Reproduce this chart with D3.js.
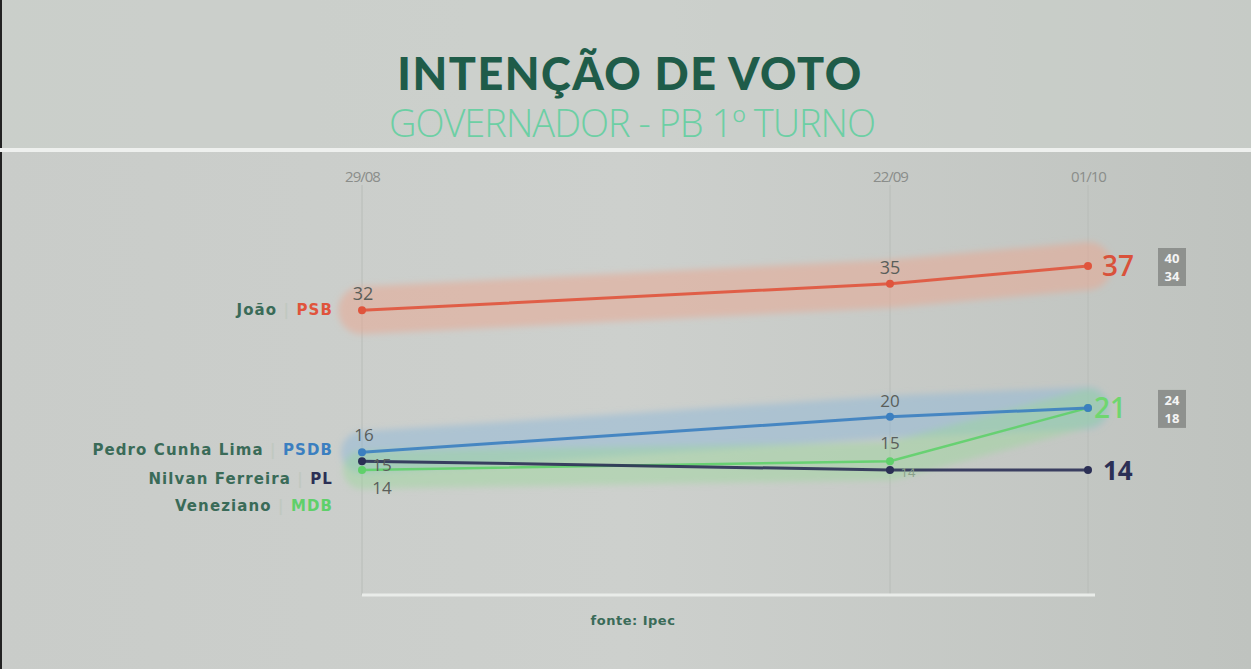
<!DOCTYPE html>
<html><head><meta charset="utf-8">
<script src="https://cdn.jsdelivr.net/npm/d3@7"></script>
<style>html,body{margin:0;padding:0;background:#c8cbc8;overflow:hidden}</style>
</head><body>
<svg id="c" width="1251" height="669"></svg>
<script>
const dates = ["2022-08-29","2022-09-22","2022-10-01"];
const tickLabels = ["29/08","22/09","01/10"];
const joao = [32,35,37];
const pedro = [16,20,21];
const nilvan = [15,14,14];
const veneziano = [14,15,21];
const candidates = ["João","Pedro Cunha Lima","Nilvan Ferreira","Veneziano"];
const parties = ["PSB","PSDB","PL","MDB"];
const colors = ["#e0543c","#3b7fc0","#2b2f55","#5fd06a"];
const rangeJoao = [40,34];
const rangeGreen = [24,18];

const svg = d3.select("#c");
const W=1251,H=669;
const defs = svg.append("defs");
const bg = defs.append("linearGradient").attr("id","bg").attr("x1",0).attr("x2",1).attr("y1",0).attr("y2",0);
bg.append("stop").attr("offset","0%").attr("stop-color","#c9ccc9");
bg.append("stop").attr("offset","50%").attr("stop-color","#cdd0cd");
bg.append("stop").attr("offset","100%").attr("stop-color","#bfc3bf");
svg.append("rect").attr("width",W).attr("height",H).attr("fill","url(#bg)");
svg.append("rect").attr("width",W).attr("height",150).attr("fill","#ccd1cc").attr("opacity",0.6);
svg.append("rect").attr("x",0).attr("y",0).attr("width",2).attr("height",H).attr("fill","#222");
svg.append("rect").attr("x",0).attr("y",148).attr("width",W).attr("height",4).attr("fill","#eef0ee");
const blur = defs.append("filter").attr("id","blur").attr("x","-20%").attr("y","-50%").attr("width","140%").attr("height","200%");
blur.append("feGaussianBlur").attr("stdDeviation",3);

// title
svg.append("text").attr("x",630).attr("y",90).attr("text-anchor","middle")
  .attr("font-family","Lato, 'Open Sans', sans-serif").attr("font-weight",900).attr("font-size",45)
  .attr("fill","#1f5c49").attr("letter-spacing",1.5).text("INTENÇÃO DE VOTO");
svg.append("text").attr("x",632).attr("y",137).attr("text-anchor","middle")
  .attr("font-family","'Open Sans', Lato, sans-serif").attr("font-weight",300).attr("font-size",38)
  .attr("fill","#6ccfa4").attr("letter-spacing",-1).text("GOVERNADOR - PB 1º TURNO");

const parse = d3.timeParse("%Y-%m-%d");
const xd = dates.map(parse);
const x = d3.scaleTime().domain([xd[0],xd[2]]).range([362,1088]);
const y = d3.scaleLinear().domain([14,37]).range([470,266]);

// grid
svg.append("g").selectAll("line").data(xd).join("line")
  .attr("x1",d=>x(d)).attr("x2",d=>x(d)).attr("y1",185).attr("y2",595)
  .attr("stroke","#b8bcb8").attr("stroke-width",1);
svg.append("line").attr("x1",362).attr("x2",1095).attr("y1",595).attr("y2",595)
  .attr("stroke","#e9ece9").attr("stroke-width",3);

// x axis ticks
const ax = d3.axisTop(x).tickValues(xd).tickFormat((d,i)=>tickLabels[i]).tickSize(0);
const axg = svg.append("g").attr("transform","translate(0,168)").call(ax);
axg.select(".domain").remove();
axg.selectAll("text").attr("font-family","'Open Sans', sans-serif").attr("font-size",15)
  .attr("fill","#8a8d8a").attr("letter-spacing",-1).attr("dy","1.1em");

const series = [joao,pedro,nilvan,veneziano];
const line = d3.line().x((d,i)=>x(xd[i])).y(d=>y(d));

// glow bands
const bands = svg.append("g").attr("filter","url(#blur)");
bands.append("path").datum(joao).attr("d",line).attr("fill","none")
  .attr("stroke","#e8a894").attr("stroke-width",48).attr("stroke-linecap","round").attr("opacity",0.55);
bands.append("path").datum(pedro).attr("d",line).attr("fill","none")
  .attr("stroke","#8fb8d8").attr("stroke-width",42).attr("stroke-linecap","round").attr("opacity",0.5);
bands.append("path").datum(veneziano).attr("d",line).attr("fill","none")
  .attr("stroke","#9ad89a").attr("stroke-width",38).attr("stroke-linecap","round").attr("opacity",0.45);

// lines
const order = [0,3,1,2];
order.forEach(k=>{
  svg.append("path").datum(series[k]).attr("d",line).attr("fill","none")
    .attr("stroke",colors[k]).attr("stroke-width",k===3?2.5:3).attr("opacity",0.9);
  svg.append("g").selectAll("circle").data(series[k]).join("circle")
    .attr("cx",(d,i)=>x(xd[i])).attr("cy",d=>y(d)).attr("r",4).attr("fill",colors[k]);
});

// legend labels
const legY = [310,450,479,506];
candidates.forEach((c,i)=>{
  const t = svg.append("text").attr("x",333).attr("y",legY[i]+5).attr("text-anchor","end")
    .attr("font-family","'DejaVu Sans', sans-serif").attr("font-weight",700).attr("font-size",15)
    .attr("letter-spacing",1.1);
  t.append("tspan").attr("fill","#3a6b58").text(c+" ");
  t.append("tspan").attr("fill","#c0c8c0").text("| ");
  t.append("tspan").attr("fill",colors[i]).text(parties[i]);
});

// value labels
const vf = "'Open Sans', sans-serif";
function lab(xv,yv,txt,size,col,w,anchor){
  svg.append("text").attr("x",xv).attr("y",yv).attr("text-anchor",anchor||"middle")
   .attr("font-family",vf).attr("font-size",size).attr("font-weight",w||400).attr("fill",col).text(txt);
}
const g="#5a5e5a";
lab(x(xd[0])+1,y(joao[0])-10,joao[0],18,g);
lab(x(xd[1]),y(joao[1])-10,joao[1],18,g);
lab(x(xd[2])+14,y(joao[2])+10,joao[2],28,"#d9523b",600,"start");
lab(x(xd[0])+2,y(pedro[0])-11,pedro[0],17,g);
lab(x(xd[0])+20,y(nilvan[0])+10,nilvan[0],17,g);
lab(x(xd[0])+20,y(veneziano[0])+24,veneziano[0],17,g);
lab(x(xd[1]),y(pedro[1])-10,pedro[1],17,g);
lab(x(xd[1]),y(veneziano[1])-12,veneziano[1],17,g);
lab(x(xd[1])+18,y(nilvan[1])+7,nilvan[1],13,"#8aa08a");
lab(x(xd[2])+6,y(veneziano[2])+10,veneziano[2],28,"#6fd66f",600,"start");
lab(x(xd[2])+15,y(nilvan[2])+10,nilvan[2],26,"#2b2f55",700,"start");

// range boxes
function box(cy,vals){
  svg.append("rect").attr("x",1158).attr("y",cy-19).attr("width",28).attr("height",38).attr("fill","#8e918e");
  svg.append("text").attr("x",1172).attr("y",cy-4).attr("text-anchor","middle").attr("font-family",vf)
   .attr("font-weight",700).attr("font-size",13).attr("fill","#f4f4f4").text(vals[0]);
  svg.append("text").attr("x",1172).attr("y",cy+14).attr("text-anchor","middle").attr("font-family",vf)
   .attr("font-weight",700).attr("font-size",13).attr("fill","#f4f4f4").text(vals[1]);
}
box(y(joao[2])+1,rangeJoao);
box(y(veneziano[2])+1,rangeGreen);

svg.append("text").attr("x",633).attr("y",625).attr("text-anchor","middle").attr("font-family","'DejaVu Sans', sans-serif")
  .attr("font-weight",700).attr("font-size",13).attr("letter-spacing",0.5).attr("fill","#3a6b58").text("fonte: Ipec");
</script>
</body></html>
